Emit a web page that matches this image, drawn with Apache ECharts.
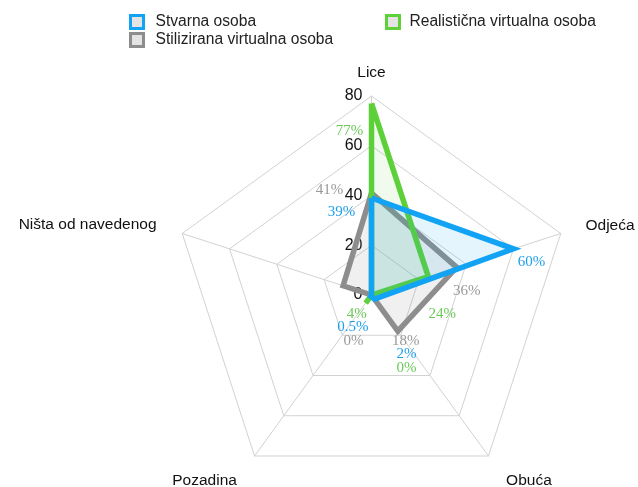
<!DOCTYPE html>
<html>
<head>
<meta charset="utf-8">
<script src="https://cdn.jsdelivr.net/npm/echarts@6/dist/echarts.min.js"></script>
<style>
  html, body { margin: 0; padding: 0; background: #fff; }
  #chart { width: 638px; height: 487px; }
</style>
</head>
<body>
<div id="chart"></div>
<script>
// data (percent), clockwise from the top
const indicators = ['Lice', 'Odjeća', 'Obuća', 'Pozadina', 'Ništa od navedenog'];
const axisTicks = [0, 20, 40, 60, 80];
const seriesNames = ['Stvarna osoba', 'Stilizirana virtualna osoba', 'Realistična virtualna osoba'];
const stvarna = [39, 60, 2, 0.5, 0];
const stilizirana = [41, 36, 18, 0, 12];
const realisticna = [77, 24, 0, 4, 0];
const labelText = {
  'Stvarna osoba': ['39%', '60%', '2%', '0.5%', ''],
  'Stilizirana virtualna osoba': ['41%', '36%', '18%', '0%', ''],
  'Realistična virtualna osoba': ['77%', '24%', '0%', '4%', '']
};

const colors = {
  'Stvarna osoba': { line: '#13a3f4', area: 'rgba(19,163,244,0.16)', text: '#1d9fec' },
  'Stilizirana virtualna osoba': { line: '#8d8d8d', area: 'rgba(150,150,150,0.2)', text: '#999999' },
  'Realistična virtualna osoba': { line: '#5dd03a', area: 'rgba(93,208,58,0.13)', text: '#6cc95a' }
};

// label offsets from each vertex, per axis (clockwise order), per series
const labelOffsets = [
  { 'Stvarna osoba': [-30, 14], 'Stilizirana virtualna osoba': [-42, -3], 'Realistična virtualna osoba': [-22, 28] },
  { 'Stvarna osoba': [18, 13], 'Stilizirana virtualna osoba': [10, 24], 'Realistična virtualna osoba': [14, 38] },
  { 'Stvarna osoba': [32, 55], 'Stilizirana virtualna osoba': [8, 10], 'Realistična virtualna osoba': [35, 73] },
  { 'Stvarna osoba': [-18, 31], 'Stilizirana virtualna osoba': [-18, 46], 'Realistična virtualna osoba': [-9, 11] }
];
// distance of each axis name from its outer vertex (clockwise order)
const nameGaps = [15, 26, 30, 30, 27];

const values = {
  'Stvarna osoba': stvarna,
  'Stilizirana virtualna osoba': stilizirana,
  'Realistična virtualna osoba': realisticna
};

const maxVal = axisTicks[axisTicks.length - 1];

// echarts radar runs counter-clockwise, so map clockwise index -> radar index
const order = [0, 4, 3, 2, 1];
const reorder = arr => order.map(i => arr[i]);
const radarIdx = i => order.indexOf(i);

const chart = echarts.init(document.getElementById('chart'));

// draw order: gray under, green, blue on top
const drawOrder = ['Stilizirana virtualna osoba', 'Realistična virtualna osoba', 'Stvarna osoba'];

const mainSeries = drawOrder.map((name, i) => ({
  type: 'radar',
  name: name,
  z: 2 + i,
  symbol: 'none',
  silent: true,
  data: [{
    name: name,
    value: reorder(values[name]),
    lineStyle: { color: colors[name].line, width: 5.5, join: 'miter' },
    areaStyle: { color: colors[name].area },
    itemStyle: { color: colors[name].line, borderColor: colors[name].line }
  }]
}));

// label-only series, one per labelled axis
const labelSeries = labelOffsets.map((offs, axisIdx) => ({
  type: 'radar',
  name: 'labels' + axisIdx,
  z: 10,
  silent: true,
  symbol: 'circle',
  symbolSize: 1,
  itemStyle: { color: 'transparent' },
  lineStyle: { width: 0, color: 'transparent' },
  data: drawOrder.map(name => ({
    name: name,
    value: reorder(values[name]),
    itemStyle: { color: 'transparent' },
    lineStyle: { width: 0, color: 'transparent' },
    label: {
      show: true,
      position: 'inside',
      offset: offs[name],
      color: colors[name].text,
      fontFamily: 'Liberation Serif',
      fontSize: 15,
      formatter: p => p.dimensionIndex === radarIdx(axisIdx) ? labelText[name][axisIdx] : ''
    }
  }))
}));

const gapsR = reorder(nameGaps);

const legendText = { fontSize: 15.6, color: '#222', fontFamily: 'Liberation Sans', padding: [0, 0, 0, 7] };

chart.setOption({
  backgroundColor: '#fff',
  animation: false,
  legend: [{
    left: 124,
    top: 9,
    orient: 'vertical',
    itemGap: 2,
    itemWidth: 13,
    itemHeight: 13,
    icon: 'rect',
    data: [seriesNames[0], seriesNames[1]].map(n => ({
      name: n,
      itemStyle: { color: '#e4e4e4', borderColor: colors[n].line, borderWidth: 3 }
    })),
    textStyle: legendText,
    selectedMode: false
  }, {
    left: 380,
    top: 9,
    orient: 'vertical',
    itemWidth: 13,
    itemHeight: 13,
    icon: 'rect',
    data: [seriesNames[2]].map(n => ({
      name: n,
      itemStyle: { color: '#e4e4e4', borderColor: colors[n].line, borderWidth: 3 }
    })),
    textStyle: Object.assign({}, legendText, { padding: [0, 0, 0, 5] }),
    selectedMode: false
  }],
  radar: {
    center: [371.5, 295],
    radius: 199,
    startAngle: 90,
    splitNumber: axisTicks.length - 1,
    shape: 'polygon',
    nameGap: 20,
    axisName: { color: '#111', fontSize: 15.5, fontFamily: 'Liberation Sans' },
    indicator: reorder(indicators).map((n, i) => ({
      name: n,
      min: 0,
      max: maxVal,
      nameGap: gapsR[i],
      axisLabel: i === 0
        ? { show: true, color: '#111', fontSize: 16, fontFamily: 'Liberation Sans', align: 'right', padding: [0, 1, 0, 0] }
        : { show: false }
    })),
    axisLine: { lineStyle: { color: '#d2d2d2', width: 1 } },
    splitLine: { lineStyle: { color: '#d2d2d2', width: 1 } },
    splitArea: { show: false },
    axisTick: { show: false }
  },
  series: mainSeries.concat(labelSeries)
});
</script>
</body>
</html>
